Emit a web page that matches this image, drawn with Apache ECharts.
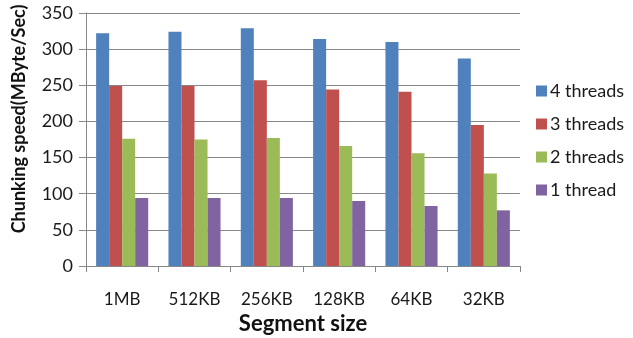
<!DOCTYPE html>
<html>
<head>
<meta charset="utf-8">
<script src="https://cdn.jsdelivr.net/npm/echarts@6/dist/echarts.min.js"></script>
<style>
  html, body { margin: 0; padding: 0; background: #fff; }
  #chart { width: 633px; height: 338px; }
</style>
</head>
<body>
<div id="chart"></div>
<script>
// Chunking throughput by segment size and thread count
const categories = ['1MB', '512KB', '256KB', '128KB', '64KB', '32KB'];
const seriesNames = ['4 threads', '3 threads', '2 threads', '1 thread'];
const threads4 = [322, 324, 329, 314, 310, 287];
const threads3 = [249, 249, 257, 244, 241, 195];
const threads2 = [176, 175, 177, 166, 156, 128];
const threads1 = [94, 94, 94, 90, 83, 77];
const yTicks = [0, 50, 100, 150, 200, 250, 300, 350];
const xTitle = 'Segment size';
const yTitle = 'Chunking speed(MByte/Sec)';

const values = [threads4, threads3, threads2, threads1];
const colors = ['#4F81BD', '#C0504D', '#9BBB59', '#8064A2'];
const font = 'Lato, "Open Sans", sans-serif';
const textColor = '#1a1a1a';

const chart = echarts.init(document.getElementById('chart'), null, { renderer: 'canvas' });
chart.setOption({
  animation: false,
  textStyle: { fontFamily: font },
  grid: { left: 86, top: 13, right: 113, bottom: 72, containLabel: false, outerBoundsMode: 'none' },
  legend: {
    orient: 'vertical',
    left: 531,
    top: 77,
    itemWidth: 11,
    itemHeight: 11,
    itemGap: 15,
    icon: 'rect',
    data: seriesNames,
    textStyle: { fontFamily: font, fontSize: 18, color: textColor, padding: [0, 0, 0, -2] }
  },
  graphic: [{
    type: 'text',
    x: 19,
    y: 119,
    rotation: Math.PI / 2,
    style: {
      text: yTitle,
      font: 'bold 18px ' + font,
      fill: '#111',
      textAlign: 'center',
      textVerticalAlign: 'middle'
    }
  }],
  xAxis: {
    type: 'category',
    data: categories,
    name: xTitle,
    nameLocation: 'middle',
    nameGap: 47,
    nameTextStyle: { fontFamily: font, fontSize: 22, fontWeight: 'bold', color: '#111' },
    axisLine: { lineStyle: { color: '#888', width: 1 } },
    axisTick: { show: true, length: 6, lineStyle: { color: '#888' } },
    axisLabel: { fontFamily: font, fontSize: 17, color: textColor, margin: 25 }
  },
  yAxis: {
    type: 'value',
    min: yTicks[0],
    max: yTicks[yTicks.length - 1],
    interval: yTicks[1] - yTicks[0],
    axisLine: { show: true, lineStyle: { color: '#888', width: 1 } },
    axisTick: { show: true, length: 7, lineStyle: { color: '#888' } },
    axisLabel: { fontFamily: font, fontSize: 18, color: textColor, margin: 13 },
    splitLine: { show: true, lineStyle: { color: '#888', width: 1 } }
  },
  series: seriesNames.map((name, i) => ({
    name,
    type: 'bar',
    data: values[i],
    barGap: '0%',
    barCategoryGap: '28%',
    itemStyle: { color: colors[i] }
  }))
});
</script>
</body>
</html>
